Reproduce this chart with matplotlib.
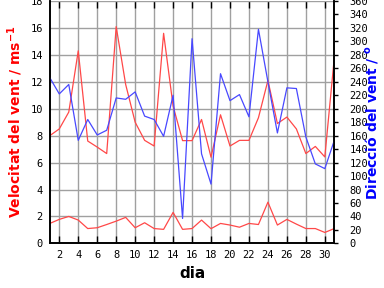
import numpy as np
import matplotlib.pyplot as plt

dies = np.arange(1, 32)
vent_max = [8.0, 8.5, 9.75, 14.3, 7.6, 7.15, 6.67, 16.1, 11.8, 9.0,
            7.65, 7.23, 15.6, 10.2, 7.63, 7.63, 9.2, 6.4, 9.55, 7.23,
            7.65, 7.65, 9.33, 12.1, 8.9, 9.38, 8.5, 6.67, 7.2, 6.42, 13.8]
vent_mitja = [1.48, 1.78, 2.0, 1.73, 1.1, 1.16, 1.4, 1.65, 1.93, 1.16,
              1.53, 1.1, 1.04, 2.3, 1.04, 1.1, 1.73, 1.09, 1.48, 1.36,
              1.2, 1.48, 1.4, 3.06, 1.36, 1.78, 1.43, 1.1, 1.1, 0.81, 1.1]
direccio = [246, 222, 236, 153, 184, 161, 168, 216, 214, 225,
            189, 184, 159, 220, 37, 304, 133, 88, 252, 212,
            221, 188, 318, 240, 164, 231, 230, 158, 118, 111, 153]

vel_ticks = np.arange(0, 19, 2)
dir_ticks = np.arange(0, 361, 20)
dia_ticks = np.arange(2, 31, 2)

fig = plt.figure(figsize=(3.84, 2.88), dpi=100)
ax = fig.add_axes([0.1297, 0.155, 0.7409, 0.8415])
ax2 = ax.twinx()

ax.plot(dies, vent_max, color='#ff4848', lw=0.9)
ax.plot(dies, vent_mitja, color='#ff4848', lw=0.9)
ax2.plot(dies, direccio, color='#4848ff', lw=0.9)

ax.set_xlim(1, 31)
ax.set_ylim(0, 18)
ax2.set_ylim(0, 360)

ax.set_xticks(dia_ticks)
ax.set_yticks(vel_ticks)
ax2.set_yticks(dir_ticks)
ax.grid(True, color='#a0a0a0', lw=1.0)
ax.set_axisbelow(True)

mono = {'family': 'DejaVu Sans Mono', 'size': 7.5}
ax.set_xticklabels([str(d) for d in dia_ticks], fontdict=mono)
ax.set_yticklabels([str(v) for v in vel_ticks], fontdict=mono)
ax2.set_yticklabels([str(v) for v in dir_ticks], fontdict=mono)

ax.tick_params(axis='x', direction='in', length=5, top=True, width=1, pad=5)
ax.tick_params(axis='y', direction='in', length=0, pad=5)
ax2.tick_params(axis='y', direction='out', length=3, width=1, pad=8)

for a in (ax, ax2):
    for s in a.spines.values():
        s.set_linewidth(1.2)
    a.spines['top'].set_visible(False)

ax.set_xlabel('dia', fontsize=11, fontweight='bold', labelpad=4)
ax.set_ylabel('Velocitat del vent / ms$^{\\mathbf{-1}}$', fontsize=10,
              fontweight='bold', color='#ff0000', labelpad=4)
ax2.set_ylabel('Direcció del vent / $^{\\mathbf{o}}$', fontsize=10,
               fontweight='bold', color='#0000ff', labelpad=-4)

fig.savefig('out.png', dpi=100)
